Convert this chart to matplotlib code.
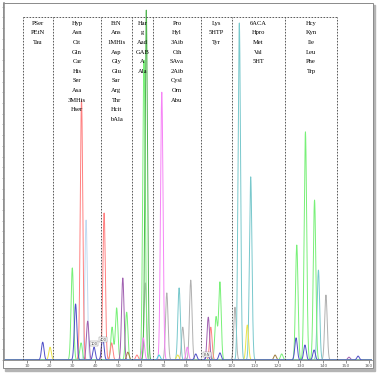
import numpy as np
import matplotlib.pyplot as plt
from matplotlib.patches import Rectangle

# retention times (min) and peak heights (% of full scale) for each trace
green_rt = [29.96, 33.8, 47.4, 49.4, 53.8, 61.4, 93.0, 94.7, 121.8, 128.4, 132.2, 136.2]
green_h = [25.8, 4.8, 9.2, 14.6, 13.4, 84.0, 12.0, 21.8, 1.7, 32.2, 63.9, 44.8]
dkgreen_rt = [62.4]
dkgreen_h = [98.0]
blue_rt = [16.97, 31.4, 39.5, 43.3, 84.1, 89.2, 94.7, 128.1, 132.0, 136.0, 155.3]
blue_h = [5.0, 15.7, 3.6, 6.4, 1.7, 1.7, 2.0, 6.2, 4.2, 2.8, 1.1]
red_rt = [34.0, 43.9, 47.2, 58.3, 90.7]
red_h = [72.8, 41.2, 4.8, 1.4, 9.2]
ltblue_rt = [36.0]
ltblue_h = [39.2]
purple_rt = [36.7, 52.1, 89.6, 151.3]
purple_h = [10.9, 23.0, 12.0, 0.8]
gray_rt = [62.0, 71.4, 78.4, 81.9, 101.3, 141.2]
gray_h = [21.6, 18.8, 9.2, 22.4, 14.8, 18.2]
magenta_rt = [61.1, 69.2, 80.4]
magenta_h = [6.2, 75.0, 3.6]
teal_rt = [76.8, 103.2, 108.2, 137.9]
teal_h = [20.2, 94.4, 51.3, 25.2]
yellow_rt = [20.2, 76.2, 106.7]
yellow_h = [3.6, 1.4, 9.8]
olive_rt = [54.3, 118.9]
olive_h = [2.2, 1.4]
cyan_rt = [68.0]
cyan_h = [1.4]

traces = [
    (gray_rt, gray_h, '#b0b0b0'),
    (teal_rt, teal_h, '#78c8cc'),
    (ltblue_rt, ltblue_h, '#c0daf2'),
    (green_rt, green_h, '#78f078'),
    (dkgreen_rt, dkgreen_h, '#50b450'),
    (red_rt, red_h, '#ff8080'),
    (magenta_rt, magenta_h, '#f684f6'),
    (purple_rt, purple_h, '#a060b0'),
    (yellow_rt, yellow_h, '#ece448'),
    (olive_rt, olive_h, '#a08040'),
    (cyan_rt, cyan_h, '#40d8e0'),
    (blue_rt, blue_h, '#5050c8'),
]

# dashed window boundaries and the amino acids eluting in each window
bounds = [8.3, 21.5, 42.5, 56.1, 65.4, 86.3, 100.0, 123.2, 146.1]
groups = [
    ['PSer', 'PEtN', 'Tau'],
    ['Hyp', 'Asn', 'Cit', 'Gln', 'Car', 'His', 'Ser', 'Asa', '3MHis', 'Hser'],
    ['EtN', 'Ans', '1MHis', 'Asp', 'Gly', 'Glu', 'Sar', 'Arg', 'Thr', 'Hcit', 'bAla'],
    ['Har', 'g', 'Aad', 'GAB', 'A', 'Ala'],
    ['Pro', 'Hyl', '3Aib', 'Cth', 'SAva', '2Aib', 'Cysl', 'Orn', 'Abu'],
    ['Lys', '5HTP', 'Tyr'],
    ['6ACA', 'Hpro', 'Met', 'Val', '5HT'],
    ['Hcy', 'Kyn', 'Ile', 'Leu', 'Phe', 'Trp'],
]
xticks = list(range(10, 161, 10))

fig = plt.figure(figsize=(3.8, 3.8), dpi=100)
# panel frame with a light drop shadow, kept behind the axes
fig.patches.append(Rectangle((5 / 380, 9 / 380), 370 / 380, 366 / 380,
                             transform=fig.transFigure, color='#b4b4b4', zorder=-2))
fig.patches.append(Rectangle((3 / 380, 12 / 380), 370 / 380, 365 / 380,
                             transform=fig.transFigure, facecolor='white',
                             edgecolor='#8a8a8a', lw=0.7, zorder=-1))

ax = fig.add_axes([4 / 380, 20 / 380, 368 / 380, 357 / 380])
ax.set_zorder(1)
ax.set_facecolor('none')
t = np.arange(0, 162, 0.04)
sigma = 0.55
for rts, hs, col in traces:
    y = np.zeros_like(t)
    for r, h in zip(rts, hs):
        y += h * np.exp(-0.5 * ((t - r) / sigma) ** 2)
    ax.plot(t, y, color=col, lw=0.7)

top = 96.1
for b in bounds:
    ax.plot([b, b], [0, top], ls=(0, (2, 1.6)), color='#404040', lw=0.6)
ax.plot([bounds[0], bounds[-1]], [top, top], ls=(0, (2, 1.6)), color='#404040', lw=0.6)

for i, names in enumerate(groups):
    cx = (bounds[i] + bounds[i + 1]) / 2
    for j, n in enumerate(names):
        ax.text(cx, 94.3 - 2.69 * j, n, ha='center', va='center', fontsize=4.7,
                family='Liberation Serif', color='black')

# tiny peak tags near the baseline
for x, y, s in [(39.5, 4.6, '100'), (43.5, 5.7, '400'), (89.0, 1.5, 'EtN')]:
    ax.text(x, y, s, fontsize=2.6, ha='center', va='center', color='#404040',
            bbox=dict(boxstyle='square,pad=0.15', fc='white', ec='#808080', lw=0.3))

ax.set_xlim(0, 161.4)
ax.set_ylim(0, 100)
ax.set_xticks(xticks)
ax.set_xticklabels([str(v) for v in xticks], fontsize=3.2, color='#505050')
ax.tick_params(axis='x', length=2, width=0.5, pad=1, colors='#606060')
ax.set_yticks(np.arange(0, 100, 3))
ax.set_yticklabels([])
ax.tick_params(axis='y', length=1.5, width=0.4, colors='#808080')
for s in ['top', 'right']:
    ax.spines[s].set_visible(False)
ax.spines['left'].set_color('#909090')
ax.spines['left'].set_linewidth(1.2)
ax.spines['bottom'].set_color('#808080')
ax.spines['bottom'].set_linewidth(0.6)

fig.savefig('out.png', dpi=100)
